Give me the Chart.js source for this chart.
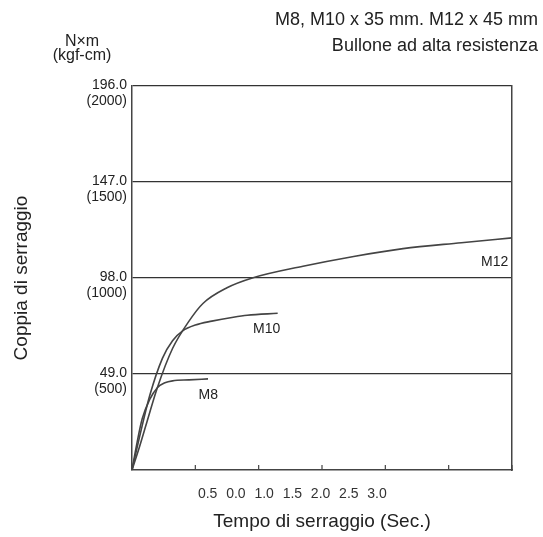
<!DOCTYPE html>
<html>
<head>
<meta charset="utf-8">
<script src="https://cdn.jsdelivr.net/npm/chart.js@4"></script>
<style>body{margin:0;background:#fff}canvas{display:block}</style>
</head>
<body>
<canvas id="c" width="543" height="537"></canvas>
<script>
// Curves (time s, torque N·m)
const m12 = [[0,0],[0.06,12],[0.12,25],[0.2,42],[0.32,62],[0.45,76],[0.56,85],[0.75,93],[0.95,98],[1.35,104],[1.75,109],[2.14,113],[2.6,116],[3.0,118.5]];
const m10 = [[0,0],[0.06,17],[0.14,38],[0.24,57],[0.32,66],[0.4,71],[0.5,74],[0.63,76],[0.8,78],[0.91,79],[1.15,80]];
const m8 = [[0,0],[0.04,14],[0.08,26],[0.14,36],[0.2,42],[0.26,44.5],[0.32,45.5],[0.45,46],[0.6,46.5]];
const curveLabels = [["M12",2.85,106],["M10",1.05,72],["M8",0.62,38]];
const yTicks = [49, 98, 147, 196];
const yTicksKgf = ["(500)", "(1000)", "(1500)", "(2000)"];
const xTickLabels = ["0.5", "0.0", "1.0", "1.5", "2.0", "2.5", "3.0"];

const FONT = "Liberation Sans, Arial, sans-serif";
const pts = a => a.map(([x, y]) => ({x, y}));
const line = d => ({data: pts(d), borderColor: "#444", borderWidth: 1.6, pointRadius: 0, cubicInterpolationMode: "monotone", fill: false});

const textPlugin = {
  id: "texts",
  afterDraw(chart) {
    const {ctx, scales: {x, y}, chartArea: a} = chart;
    ctx.save();
    // tick marks pointing into the plot
    ctx.strokeStyle = "#444";
    ctx.lineWidth = 1.2;
    x.ticks.forEach(t => {
      if (t.value <= 0) return;
      const px = x.getPixelForValue(t.value);
      ctx.beginPath(); ctx.moveTo(px, a.bottom); ctx.lineTo(px, a.bottom - 5); ctx.stroke();
    });
    ctx.fillStyle = "#222";
    ctx.font = "14px " + FONT;
    ctx.textAlign = "left";
    ctx.textBaseline = "middle";
    curveLabels.forEach(([t, vx, vy]) => ctx.fillText(t, x.getPixelForValue(vx) - 12, y.getPixelForValue(vy)));
    ctx.textAlign = "right";
    yTicks.forEach((v, i) => {
      const py = y.getPixelForValue(v);
      ctx.fillText(v.toFixed(1), a.left - 5, py - 1);
      ctx.fillText(yTicksKgf[i], a.left - 5, py + 15);
    });
    ctx.font = "18px " + FONT;
    ctx.fillText("M8, M10 x 35 mm. M12 x 45 mm", 538, 20);
    ctx.fillText("Bullone ad alta resistenza", 538, 46);
    ctx.textAlign = "center";
    ctx.font = "16px " + FONT;
    ctx.fillText("N\u00d7m", 82, 42);
    ctx.fillText("(kgf-cm)", 82, 56);
    ctx.font = "19px " + FONT;
    ctx.translate(22, 278);
    ctx.rotate(-Math.PI / 2);
    ctx.fillText("Coppia di serraggio", 0, 0);
    ctx.restore();
  }
};

new Chart(document.getElementById("c"), {
  type: "line",
  data: {datasets: [line(m12), line(m10), line(m8)]},
  options: {
    responsive: false,
    animation: false,
    layout: {padding: {top: 86, right: 31, left: 0, bottom: 0}},
    plugins: {legend: {display: false}, tooltip: {enabled: false}},
    scales: {
      x: {
        type: "linear", min: 0, max: 3.0, position: "bottom",
        ticks: {stepSize: 0.5, display: false},
        grid: {display: false},
        border: {color: "#444", width: 1.5},
        afterFit: s => { s.height = 6; }
      },
      x2: {
        type: "linear", min: -1.34, max: 5.39, position: "bottom",
        afterBuildTicks: s => { s.ticks = xTickLabels.map((_, i) => ({value: i * 0.5})); },
        ticks: {font: {family: FONT, size: 14}, color: "#333", padding: 2,
          callback: (v, i) => xTickLabels[i]},
        grid: {display: false}, border: {display: false},
        title: {display: true, text: "Tempo di serraggio (Sec.)", font: {family: FONT, size: 19}, color: "#222", padding: {top: 12}},
        afterFit: s => { s.height = 61; }
      },
      y: {
        min: 0, max: 196,
        afterBuildTicks: s => { s.ticks = yTicks.map(v => ({value: v})); },
        ticks: {display: false},
        grid: {color: "#333", lineWidth: 1.3, drawTicks: false},
        border: {color: "#444", width: 1.5},
        afterFit: s => { s.width = 132; }
      },
      yr: {
        position: "right", min: 0, max: 196,
        ticks: {display: false}, grid: {display: false},
        border: {color: "#444", width: 1.5},
        afterFit: s => { s.width = 0; }
      }
    }
  },
  plugins: [textPlugin]
});
</script>
</body>
</html>
